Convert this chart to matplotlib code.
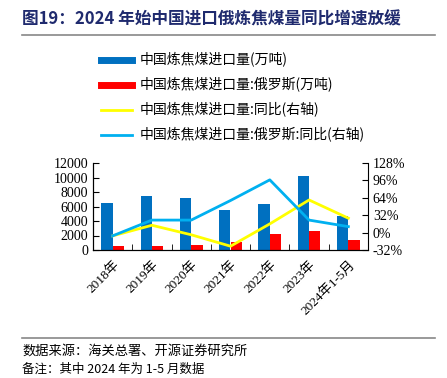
import matplotlib
matplotlib.use("Agg")
import matplotlib.pyplot as plt
from matplotlib.lines import Line2D
from matplotlib.ticker import FixedLocator, MultipleLocator
import numpy as np

plt.rcParams['font.family'] = ['Liberation Serif', 'Noto Sans CJK SC']

years = ['2018年', '2019年', '2020年', '2021年', '2022年', '2023年', '2024年1-5月']
# 万吨
imp_total = [6550, 7430, 7200, 5450, 6370, 10200, 4710]
imp_russia = [510, 600, 740, 1150, 2170, 2680, 1390]
# 同比 (%)
yoy_total = [-6, 13.5, -4, -25, 16, 60, 26.5]
yoy_russia = [-6, 23, 23, 59, 97, 23, 11]

c_blue = '#0070C0'
c_red = '#FF0000'
c_yellow = '#FFFF00'
c_cyan = '#00B0F0'

fig = plt.figure(figsize=(4.47, 3.78), dpi=100)
ax = fig.add_axes([93/447, 1-250/378, 275/447, 87/378])
ax2 = ax.twinx()

x = np.arange(len(years))
w = 0.29
ax.bar(x - w/2, imp_total, width=w, color=c_blue, zorder=2)
ax.bar(x + w/2, imp_russia, width=w, color=c_red, zorder=2)
ax2.plot(x, yoy_total, color=c_yellow, lw=2)
ax2.plot(x, yoy_russia, color=c_cyan, lw=2)

ax.set_xlim(-0.5, len(years) - 0.5)
ax.set_ylim(0, 12000)
ax.yaxis.set_major_locator(MultipleLocator(2000))
ax2.set_ylim(-32, 128)
ax2.yaxis.set_major_locator(MultipleLocator(32))
ax2.set_yticklabels([f'{int(v)}%' for v in ax2.get_yticks()])

ax.set_xticks(x)
ax.set_xticklabels(years, rotation=45, ha='right', rotation_mode='anchor', fontsize=9.5)
ax.tick_params(axis='x', which='major', length=0, pad=6)
ax.xaxis.set_minor_locator(FixedLocator(np.arange(-0.5, len(years), 1)))
ax.tick_params(axis='x', which='minor', direction='in', length=4)
ax.tick_params(axis='y', direction='in', length=4, labelsize=10)
ax2.tick_params(axis='y', direction='in', length=4, labelsize=10)

for a in (ax, ax2):
    a.spines['top'].set_visible(False)
ax.spines['right'].set_visible(False)

handles = [
    Line2D([], [], color=c_blue, lw=5),
    Line2D([], [], color=c_red, lw=5),
    Line2D([], [], color=c_yellow, lw=2),
    Line2D([], [], color=c_cyan, lw=2),
]
labels = ['中国炼焦煤进口量(万吨)', '中国炼焦煤进口量:俄罗斯(万吨)',
          '中国炼焦煤进口量:同比(右轴)', '中国炼焦煤进口量:俄罗斯:同比(右轴)']
fig.legend(handles, labels, loc='upper left', bbox_to_anchor=(88/447, 1-40/378),
           frameon=False, prop={'family': ['Noto Sans CJK SC'], 'size': 10},
           handlelength=2.3, labelspacing=0.72, handletextpad=0.5)

fig.text(22/447, 1-20/378, '图19：2024 年始中国进口俄炼焦煤量同比增速放缓',
         fontsize=12, fontweight='bold', color='#1F2A6E', va='center',
         family=['Noto Sans CJK SC'])
fig.add_artist(Line2D([22/447, 435/447], [1-35/378, 1-35/378], color='#888888', lw=1.2))
fig.add_artist(Line2D([22/447, 435/447], [1-338/378, 1-338/378], color='#888888', lw=1.2))
fig.text(22/447, 1-351/378, '数据来源：海关总署、开源证券研究所', fontsize=9.5,
         va='center', family=['Noto Sans CJK SC'])
fig.text(22/447, 1-369/378, '备注：其中 2024 年为 1-5 月数据', fontsize=9,
         va='center', family=['Noto Sans CJK SC'])

fig.savefig('out.png', dpi=100)
